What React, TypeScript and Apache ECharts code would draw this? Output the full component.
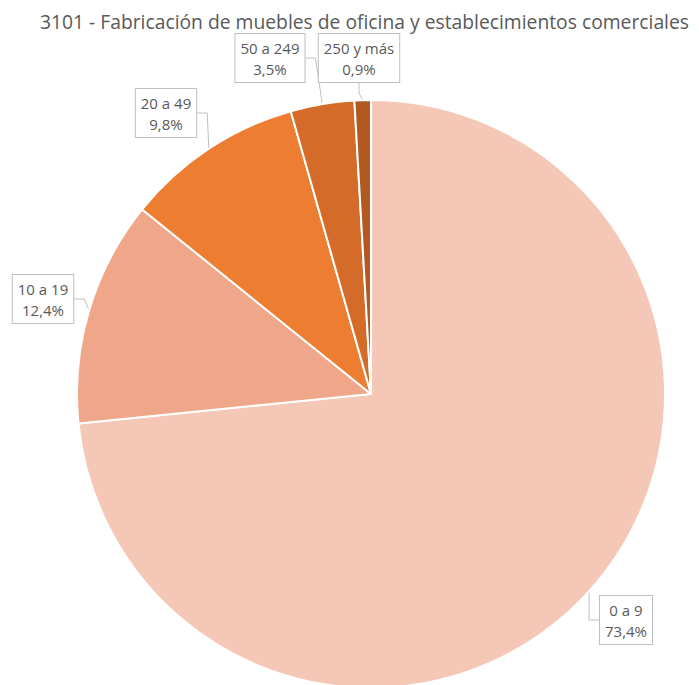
import React, { useEffect, useRef } from "react";
import * as echarts from "echarts";

const titleText = "3101 - Fabricación de muebles de oficina y establecimientos comerciales";
const categories = ["0 a 9", "10 a 19", "20 a 49", "50 a 249", "250 y más"];
const shares = [73.4, 12.4, 9.8, 3.5, 0.9];
const sliceColors = ["#F4C7B6", "#F0A688", "#ED7D31", "#D46B28", "#B15A20"];

// label box centres (layout only)
const labelCenters: [number, number][] = [
  [626, 620],
  [43, 299],
  [166, 113],
  [270, 58],
  [359, 58],
];

export default function App() {
  const ref = useRef<HTMLDivElement>(null);
  useEffect(() => {
    if (!ref.current) return;
    const chart = echarts.init(ref.current, null, { renderer: "svg" });
    chart.setOption({
      animation: false,
      backgroundColor: "#ffffff",
      title: {
        text: titleText,
        right: 5,
        top: 7,
        textStyle: {
          fontFamily: "Open Sans",
          fontSize: 19.3,
          fontWeight: "normal",
          color: "#595959",
        },
      },
      series: [
        {
          type: "pie",
          center: [371, 394],
          radius: 294,
          startAngle: 90,
          clockwise: true,
          avoidLabelOverlap: false,
          data: categories.map((c, i) => ({
            name: c,
            value: shares[i],
            itemStyle: { color: sliceColors[i] },
          })),
          itemStyle: { borderColor: "#ffffff", borderWidth: 2 },
          label: {
            show: true,
            position: "outside",
            formatter: (p: any) => p.name + "\n" + p.value.toFixed(1).replace(".", ",") + "%",
            fontFamily: "Open Sans",
            fontSize: 15,
            lineHeight: 21,
            color: "#595959",
            backgroundColor: "#ffffff",
            borderColor: "#BFBFBF",
            borderWidth: 1,
            padding: [3, 5, 3, 5],
            align: "center",
          },
          labelLine: {
            show: true,
            length: 10,
            length2: 10,
            lineStyle: { color: "#BFBFBF", width: 1 },
          },
          labelLayout: (params: any) => {
            const c = labelCenters[params.dataIndex];
            return { x: c[0], y: c[1], align: "center", verticalAlign: "middle" };
          },
        },
      ],
    });
    return () => chart.dispose();
  }, []);
  return (
    <div
      ref={ref}
      style={{ position: "fixed", left: 0, top: 0, width: 699, height: 685 }}
    />
  );
}
